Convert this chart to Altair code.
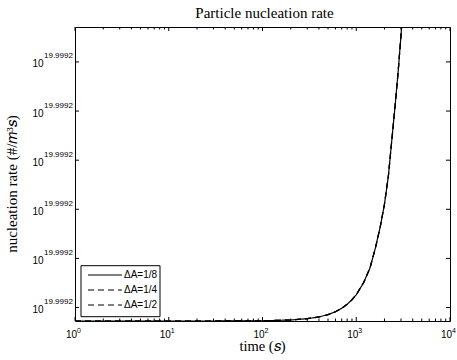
import altair as alt
import pandas as pd

# ---- data ----
series = ["ΔA=1/8", "ΔA=1/4", "ΔA=1/2"]
times = [1, 2, 5, 10, 20, 50, 100, 200, 300, 400, 500, 600, 700, 800, 900,
         1000, 1200, 1400, 1600, 1800, 2000, 2200, 2400, 2600, 2800, 3000, 3200]
# log10(rate) offset, in units of 1e-5 relative to the first tick
rate_1_8 = [-0.274, -0.274, -0.274, -0.274, -0.274, -0.273, -0.269, -0.254, -0.227,
            -0.191, -0.144, -0.085, -0.016, 0.067, 0.159, 0.259, 0.509, 0.803, 1.210,
            1.637, 2.104, 2.673, 3.425, 4.116, 4.807, 5.539, 6.271]
rate_1_4 = list(rate_1_8)
rate_1_2 = list(rate_1_8)

x_major = [1, 10, 100, 1000, 10000]
x_exps = ["0", "1", "2", "3", "4"]
x_minor = [k * 10 ** e for e in range(4) for k in range(2, 10)]
y_ticks = [0, 1, 2, 3, 4, 5]
y_exps = ["19.9992"] * 6

title_text = "Particle nucleation rate"
x_title = "time (𝑠)"
y_title = "nucleation rate (#/𝑚³𝑠)"

# ---- layout ----
W, H = 375, 294
SANS = "Liberation Sans"
SERIF = "Liberation Serif"

rows = []
for name, vals in zip(series, [rate_1_8, rate_1_4, rate_1_2]):
    for t, v in zip(times, vals):
        rows.append({"series": name, "t": t, "v": v})
df = pd.DataFrame(rows)

xs = alt.Scale(type="log", domain=[1, 10000], nice=False)
ys = alt.Scale(domain=[-0.274, 5.711], nice=False, zero=False)

lines = alt.Chart(df).mark_line(clip=True, strokeWidth=1.2, color="black").encode(
    x=alt.X("t:Q", scale=xs, axis=None),
    y=alt.Y("v:Q", scale=ys, axis=None),
    strokeDash=alt.StrokeDash("series:N", scale=alt.Scale(domain=series, range=[[1, 0], [6, 4], [6, 4]]), legend=None),
)

xmaj = pd.DataFrame({"t": x_major, "base": ["10"] * 5, "exp": x_exps})
xmin = pd.DataFrame({"t": x_minor})
yt = pd.DataFrame({"v": y_ticks, "base": ["10"] * 6, "exp": y_exps})

def xrule(data, y1, y2):
    return alt.Chart(data).mark_rule(color="black", strokeWidth=1).encode(
        x=alt.X("t:Q", scale=xs, axis=None), y=alt.value(y1), y2=alt.value(y2))

def yrule(x1, x2):
    return alt.Chart(yt).mark_rule(color="black", strokeWidth=1).encode(
        y=alt.Y("v:Q", scale=ys, axis=None), x=alt.value(x1), x2=alt.value(x2))

ticks = [
    xrule(xmaj, H, H - 4), xrule(xmaj, 0, 4),
    xrule(xmin, H, H - 2.5), xrule(xmin, 0, 2.5),
    yrule(0, 4), yrule(W, W - 4),
]

xbase = alt.Chart(xmaj).mark_text(align="center", baseline="alphabetic", font=SANS, fontSize=10, dx=-3.5, color="black").encode(
    x=alt.X("t:Q", scale=xs, axis=None), y=alt.value(H + 16.5), text="base:N")
xexp = alt.Chart(xmaj).mark_text(align="left", baseline="alphabetic", font=SANS, fontSize=7, dx=2, color="black").encode(
    x=alt.X("t:Q", scale=xs, axis=None), y=alt.value(H + 12), text="exp:N")
ybase = alt.Chart(yt).mark_text(align="right", baseline="alphabetic", font=SANS, fontSize=10, dy=5.5, color="black").encode(
    y=alt.Y("v:Q", scale=ys, axis=None), x=alt.value(-31.5), text="base:N")
yexp = alt.Chart(yt).mark_text(align="left", baseline="alphabetic", font=SANS, fontSize=8, dy=-3.5, color="black").encode(
    y=alt.Y("v:Q", scale=ys, axis=None), x=alt.value(-31), text="exp:N")

one = pd.DataFrame({"a": [0]})
title = alt.Chart(one).mark_text(text=title_text, font=SERIF, fontSize=15, align="center", baseline="alphabetic", color="black").encode(
    x=alt.value(W / 2 + 2), y=alt.value(-9))
xtitle = alt.Chart(one).mark_text(text=x_title, font=SERIF, fontSize=14.5, align="center", baseline="alphabetic", color="black").encode(
    x=alt.value(W / 2), y=alt.value(H + 30))
ytitle = alt.Chart(one).mark_text(text=y_title, font=SERIF, fontSize=15, align="center", baseline="alphabetic", angle=270, color="black").encode(
    x=alt.value(-58), y=alt.value(157))

# ---- legend ----
leg_box = alt.Chart(one).mark_rect(fill="white", stroke="black", strokeWidth=1).encode(
    x=alt.value(6), x2=alt.value(85), y=alt.value(238.7), y2=alt.value(289.7))
legend_layers = [leg_box]
dashes = [[1, 0], [6, 4], [6, 4]]
for i, name in enumerate(series):
    yy = 248 + 15 * i
    legend_layers.append(alt.Chart(one).mark_rule(color="black", strokeWidth=1.2, strokeDash=dashes[i]).encode(
        x=alt.value(13), x2=alt.value(47), y=alt.value(yy)))
    legend_layers.append(alt.Chart(one).mark_text(text=name, font=SANS, fontSize=10, align="left", baseline="middle", color="black").encode(
        x=alt.value(49), y=alt.value(yy)))

chart = alt.layer(lines, *ticks, xbase, xexp, ybase, yexp, title, xtitle, ytitle, *legend_layers).properties(
    width=W, height=H, autosize=alt.AutoSizeParams(type="none"),
    padding={"left": 75, "top": 27, "right": 7, "bottom": 39},
).configure_view(stroke="black", strokeWidth=1)

chart.save("out.html", embed_options={"renderer": "svg", "actions": False})
